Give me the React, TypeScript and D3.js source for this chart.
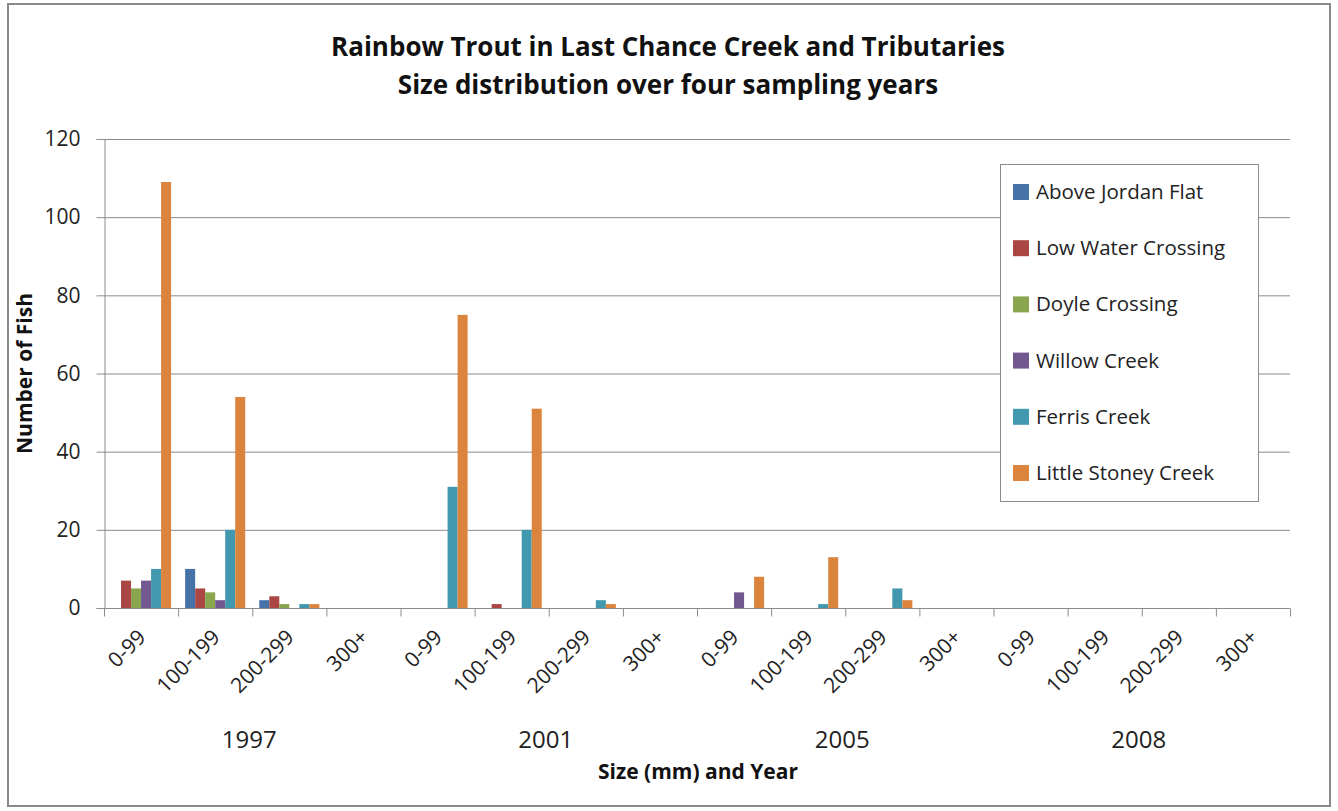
import { useEffect, useRef } from "react";
import * as d3 from "d3";

const years = ["1997", "2001", "2005", "2008"];
const sizeClasses = ["0-99", "100-199", "200-299", "300+"];
const sites = [
  "Above Jordan Flat",
  "Low Water Crossing",
  "Doyle Crossing",
  "Willow Creek",
  "Ferris Creek",
  "Little Stoney Creek",
];
const colors = ["#4572A7", "#AA4643", "#89A54E", "#71588F", "#4198AF", "#DB843D"];

// values per site, in order year x size class (16 categories)
const aboveJordanFlat = [0, 10, 2, 0, 0, 0, 0, 0, 0, 0, 0, 0, 0, 0, 0, 0];
const lowWaterCrossing = [7, 5, 3, 0, 0, 1, 0, 0, 0, 0, 0, 0, 0, 0, 0, 0];
const doyleCrossing = [5, 4, 1, 0, 0, 0, 0, 0, 0, 0, 0, 0, 0, 0, 0, 0];
const willowCreek = [7, 2, 0, 0, 0, 0, 0, 0, 4, 0, 0, 0, 0, 0, 0, 0];
const ferrisCreek = [10, 20, 1, 0, 31, 20, 2, 0, 0, 1, 5, 0, 0, 0, 0, 0];
const littleStoneyCreek = [109, 54, 1, 0, 75, 51, 1, 0, 8, 13, 2, 0, 0, 0, 0, 0];
const seriesValues = [
  aboveJordanFlat,
  lowWaterCrossing,
  doyleCrossing,
  willowCreek,
  ferrisCreek,
  littleStoneyCreek,
];
const yTicks = [0, 20, 40, 60, 80, 100, 120];

const FONT = "'Open Sans', Lato, sans-serif";

function Chart() {
  const ref = useRef<SVGSVGElement>(null);

  useEffect(() => {
    if (!ref.current) return;
    const svg = d3.select(ref.current);
    svg.selectAll("*").remove();

    const left = 104;
    const right = 1290;
    const top = 139;
    const bottom = 608;

    const categories = years.flatMap((y) => sizeClasses.map((s) => `${y}|${s}`));

    const x0 = d3.scaleBand().domain(categories).range([left, right]).padding(0);
    const x1 = d3
      .scaleBand()
      .domain(sites)
      .range([0, x0.bandwidth()])
      .paddingInner(0)
      .paddingOuter(0.7);
    const y = d3.scaleLinear().domain([0, 120]).range([bottom, top]);

    // outer frame
    svg
      .append("rect")
      .attr("x", 8)
      .attr("y", 4)
      .attr("width", 1322)
      .attr("height", 802)
      .attr("fill", "#fff")
      .attr("stroke", "#8a8a8a")
      .attr("stroke-width", 2);

    // title
    const titleLines = [
      "Rainbow Trout in Last Chance Creek and Tributaries",
      "Size distribution over four sampling years",
    ];
    svg
      .append("g")
      .selectAll("text")
      .data(titleLines)
      .enter()
      .append("text")
      .attr("x", 668)
      .attr("y", (_d, i) => 56 + i * 38)
      .attr("text-anchor", "middle")
      .attr("font-family", FONT)
      .attr("font-weight", "bold")
      .attr("font-size", 26)
      .attr("fill", "#111")
      .text((d) => d);

    // gridlines
    svg
      .append("g")
      .selectAll("line")
      .data(yTicks.filter((t) => t > 0))
      .enter()
      .append("line")
      .attr("x1", left)
      .attr("x2", right)
      .attr("y1", (d) => y(d) + 0.5)
      .attr("y2", (d) => y(d) + 0.5)
      .attr("stroke", "#8c8c8c")
      .attr("stroke-width", 1);

    // y axis
    const yAxis = svg
      .append("g")
      .attr("transform", `translate(${left + 0.5},0)`)
      .call(d3.axisLeft(y).tickValues(yTicks).tickSize(8).tickPadding(16));
    yAxis.select(".domain").attr("stroke", "#8c8c8c");
    yAxis.selectAll(".tick line").attr("stroke", "#8c8c8c");
    yAxis
      .selectAll(".tick text")
      .attr("font-family", FONT)
      .attr("font-size", 21)
      .attr("fill", "#222");

    // bars
    sites.forEach((site, i) => {
      svg
        .append("g")
        .selectAll("rect")
        .data(seriesValues[i])
        .enter()
        .append("rect")
        .attr("x", (_d, j) => (x0(categories[j]) ?? 0) + (x1(site) ?? 0))
        .attr("y", (d) => y(d))
        .attr("width", x1.bandwidth())
        .attr("height", (d) => bottom - y(d))
        .attr("fill", colors[i]);
    });

    // x axis
    const xAxis = svg.append("g").attr("transform", `translate(0,${bottom + 0.5})`);
    xAxis
      .append("line")
      .attr("x1", left)
      .attr("x2", right)
      .attr("stroke", "#8c8c8c");
    xAxis
      .selectAll("line.tick")
      .data(categories.concat(["end"]))
      .enter()
      .append("line")
      .attr("class", "tick")
      .attr("x1", (_d, j) => left + j * x0.step() + 0.5)
      .attr("x2", (_d, j) => left + j * x0.step() + 0.5)
      .attr("y1", 0)
      .attr("y2", 8)
      .attr("stroke", "#8c8c8c");
    xAxis
      .selectAll("text.cat")
      .data(categories)
      .enter()
      .append("text")
      .attr("class", "cat")
      .attr(
        "transform",
        (d) => `translate(${(x0(d) ?? 0) + x0.bandwidth() / 2 + 6},30) rotate(-45)`
      )
      .attr("text-anchor", "end")
      .attr("font-family", FONT)
      .attr("font-size", 21)
      .attr("fill", "#222")
      .text((d) => d.split("|")[1]);

    // year group labels
    svg
      .append("g")
      .selectAll("text")
      .data(years)
      .enter()
      .append("text")
      .attr("x", (d) => {
        const a = x0(`${d}|${sizeClasses[0]}`) ?? 0;
        const b = (x0(`${d}|${sizeClasses[sizeClasses.length - 1]}`) ?? 0) + x0.bandwidth();
        return (a + b) / 2 - 3;
      })
      .attr("y", 748)
      .attr("text-anchor", "middle")
      .attr("font-family", FONT)
      .attr("font-size", 24)
      .attr("fill", "#222")
      .text((d) => d);

    // axis titles
    svg
      .append("text")
      .attr("x", 698)
      .attr("y", 779)
      .attr("text-anchor", "middle")
      .attr("font-family", FONT)
      .attr("font-weight", "bold")
      .attr("font-size", 21)
      .attr("fill", "#111")
      .text("Size (mm) and Year");
    svg
      .append("text")
      .attr("transform", `translate(32,${(top + bottom) / 2}) rotate(-90)`)
      .attr("text-anchor", "middle")
      .attr("font-family", FONT)
      .attr("font-weight", "bold")
      .attr("font-size", 21)
      .attr("fill", "#111")
      .text("Number of Fish");

    // legend
    const legend = svg.append("g");
    legend
      .append("rect")
      .attr("x", 1000.5)
      .attr("y", 164.5)
      .attr("width", 258)
      .attr("height", 337)
      .attr("fill", "#fff")
      .attr("stroke", "#8c8c8c");
    const items = legend
      .selectAll("g.item")
      .data(sites)
      .enter()
      .append("g")
      .attr("class", "item")
      .attr("transform", (_d, i) => `translate(1013,${192 + i * 56.2})`);
    items
      .append("rect")
      .attr("x", 0)
      .attr("y", -8)
      .attr("width", 16)
      .attr("height", 16)
      .attr("fill", (_d, i) => colors[i]);
    items
      .append("text")
      .attr("x", 23)
      .attr("y", 7)
      .attr("font-family", FONT)
      .attr("font-size", 20.5)
      .attr("fill", "#222")
      .text((d) => d);
  }, []);

  return <svg ref={ref} width={1338} height={811} style={{ display: "block" }} />;
}

export default function App() {
  return (
    <div style={{ position: "absolute", left: 0, top: 0 }}>
      <Chart />
    </div>
  );
}
